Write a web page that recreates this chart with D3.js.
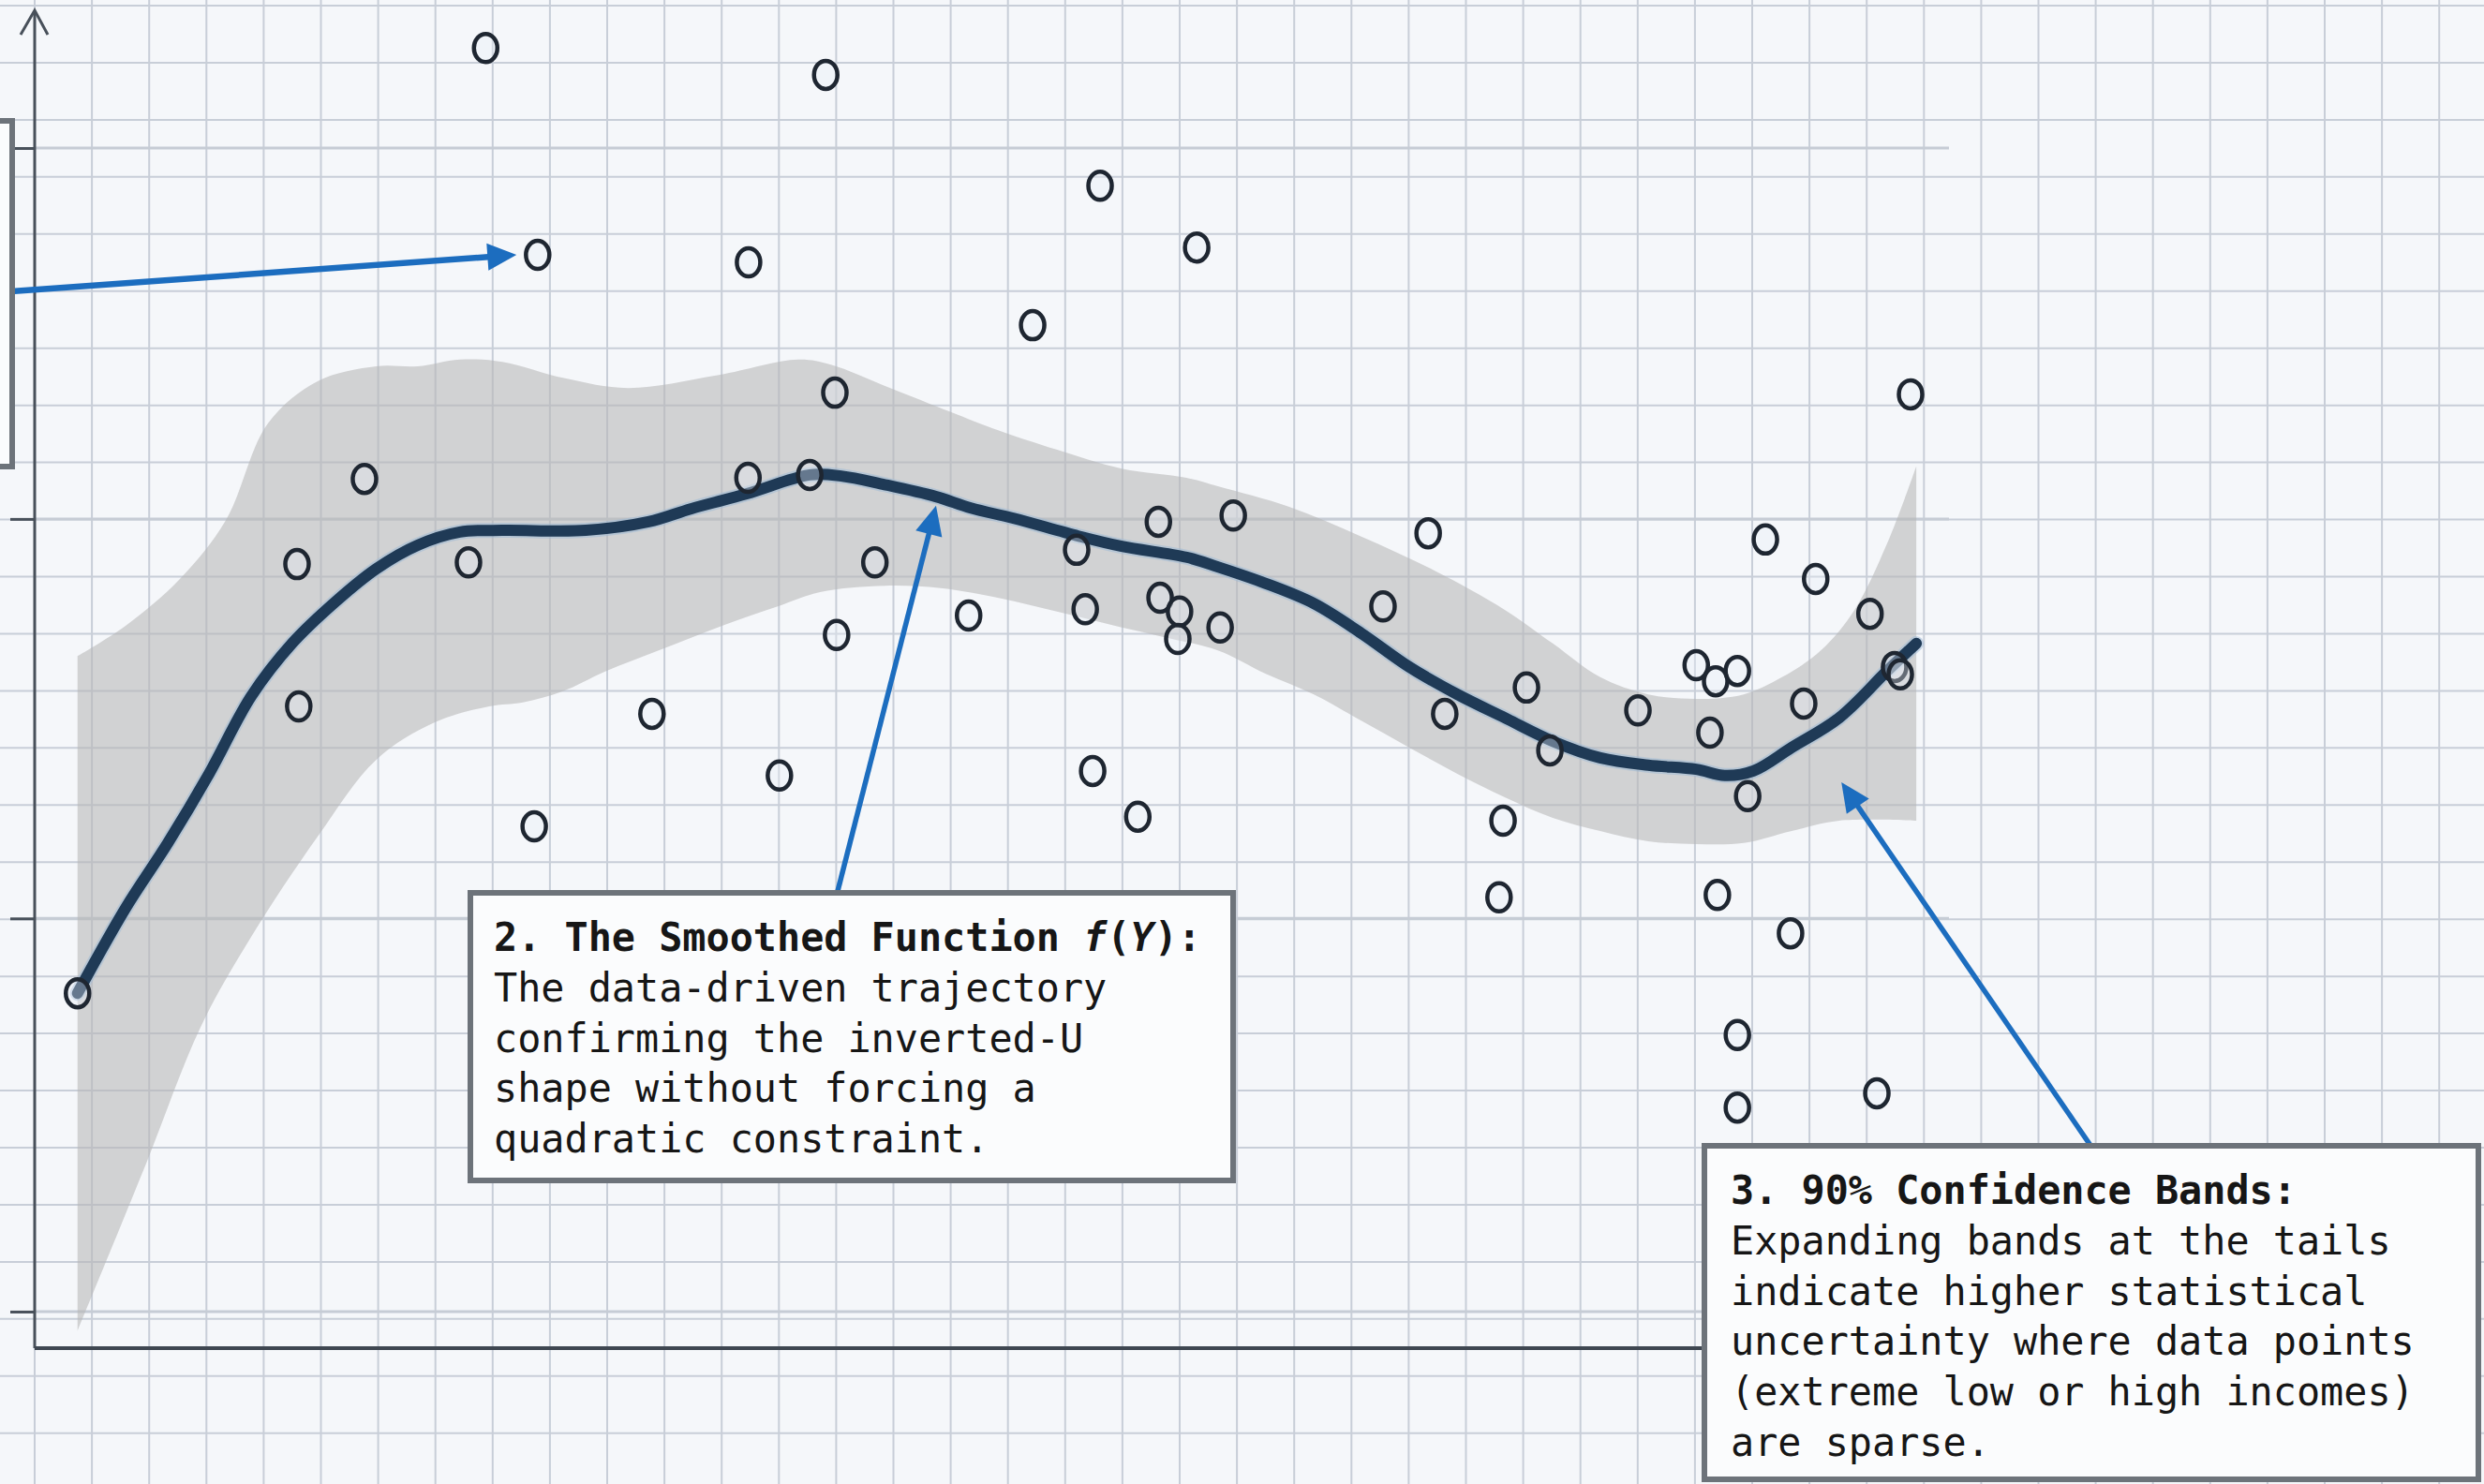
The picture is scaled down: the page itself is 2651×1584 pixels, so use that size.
<!DOCTYPE html>
<html>
<head>
<meta charset="utf-8">
<script src="https://cdn.jsdelivr.net/npm/d3@7"></script>
<style>
  html, body { margin: 0; padding: 0; background: #f5f7fa; overflow: hidden; }
  svg { display: block; }
</style>
</head>
<body>
<svg id="chart"></svg>
<script>
// ---- data (plot units: x = income index, y = outcome index) ----
const obsX = [7.89, 13.84, 18.64, 20.33, 8.80, 12.49, 17.46, 14.00, 32.82, 5.77,
              12.48, 13.56, 19.66, 20.97, 24.38, 4.59, 7.59, 14.70, 18.23, 30.28,
              31.16, 16.34, 18.38, 19.69, 20.03, 20.00, 20.74, 23.59, 32.11, 14.03,
              4.62, 10.80, 29.07, 29.41, 29.79, 32.54, 32.64, 26.10, 24.67, 28.05,
              29.31, 30.95, 26.51, 29.97, 13.03, 18.51, 8.74, 19.30, 25.69, 25.62,
              29.44, 30.72, 29.79, 29.79, 32.23, 0.75];
const obsY = [22.75, 22.28, 20.34, 19.26, 19.13, 19.00, 17.90, 16.72, 16.69, 15.21,
              15.23, 15.28, 14.46, 14.57, 14.26, 13.72, 13.75, 13.75, 13.97, 14.15,
              13.46, 12.82, 12.93, 13.13, 12.89, 12.41, 12.61, 12.98, 12.85, 12.48,
              11.23, 11.10, 11.95, 11.67, 11.85, 11.92, 11.79, 11.56, 11.10, 11.16,
              10.77, 11.28, 10.46, 9.66, 10.02, 10.10, 9.13, 9.30, 9.23, 7.89,
              7.93, 7.26, 5.48, 4.21, 4.46, 6.21];

// smoothed function f(Y)
const fitX = [0.75, 1.59, 2.33, 3.05, 3.79, 4.51, 5.25, 5.98, 6.70, 7.44, 8.18, 9.64,
              10.74, 11.49, 12.46, 13.56, 14.11, 14.87, 15.77, 16.38, 17.13, 18.26,
              19.02, 20.15, 20.70, 21.54, 22.38, 23.21, 24.05, 24.89, 25.72, 26.56,
              27.39, 28.23, 29.07, 29.57, 30.07, 30.74, 31.57, 32.41, 32.92];
const fitY = [6.21, 7.70, 8.84, 10.05, 11.41, 12.34, 13.05, 13.64, 14.05, 14.28, 14.31, 14.31,
              14.46, 14.69, 14.95, 15.28, 15.26, 15.11, 14.90, 14.70, 14.52, 14.21,
              14.03, 13.84, 13.67, 13.38, 13.03, 12.51, 11.92, 11.44, 11.03, 10.62,
              10.33, 10.20, 10.13, 10.02, 10.10, 10.51, 11.03, 11.85, 12.33];

// 90% confidence band, upper edge
const upperX = [0.75, 1.59, 2.54, 3.34, 4.08, 4.95, 5.98, 6.70, 7.44, 8.18, 9.28, 10.38,
                11.97, 13.36, 13.93, 14.97, 16.03, 16.75, 17.89, 19.02, 20.15, 20.70,
                21.95, 23.21, 24.48, 25.72, 26.56, 27.39, 28.23, 29.07, 29.90, 30.57,
                31.25, 31.84, 32.41, 32.92];
const upperY = [12.11, 12.64, 13.46, 14.48, 16.18, 16.92, 17.18, 17.18, 17.30, 17.26, 16.97, 16.80,
                17.03, 17.30, 17.21, 16.80, 16.38, 16.10, 15.72, 15.39, 15.23, 15.08,
                14.72, 14.20, 13.61, 12.92, 12.33, 11.74, 11.44, 11.36, 11.44, 11.74,
                12.21, 12.92, 14.08, 15.43];
// 90% confidence band, lower edge
const lowerX = [0.75, 1.95, 2.90, 3.79, 4.95, 5.98, 7.00, 7.95, 8.54, 9.23, 9.98, 10.97,
                12.08, 13.00, 13.74, 14.87, 15.85, 16.75, 17.51, 18.26, 19.02, 19.77,
                20.70, 21.54, 22.38, 23.21, 24.05, 24.89, 25.72, 26.56, 27.39, 28.23,
                29.07, 29.90, 30.74, 31.57, 32.92];
const lowerY = [0.30, 3.23, 5.61, 7.20, 8.95, 10.30, 10.95, 11.23, 11.30, 11.49, 11.84, 12.23,
                12.66, 12.98, 13.23, 13.34, 13.30, 13.15, 12.98, 12.80, 12.61, 12.44,
                12.21, 11.80, 11.44, 10.98, 10.51, 10.05, 9.64, 9.28, 9.05, 8.87,
                8.82, 8.84, 9.05, 9.23, 9.23];

const yTicks = [0.64, 7.52, 14.51, 21.0];

const note2Title = ["2. The Smoothed Function ", "f", "(", "Y", "):"];
const note2Body = ["The data-driven trajectory",
                   "confirming the inverted-U",
                   "shape without forcing a",
                   "quadratic constraint."];
const note3Title = "3. 90% Confidence Bands:";
const note3Body = ["Expanding bands at the tails",
                   "indicate higher statistical",
                   "uncertainty where data points",
                   "(extreme low or high incomes)",
                   "are sparse."];

// ---- layout ----
const W = 2651, H = 1584;
const originX = 37, originY = 1439, unit = 61;
const x = d3.scaleLinear().domain([0, 43]).range([originX, originX + 43 * unit]);
const y = d3.scaleLinear().domain([0, 23.5]).range([originY, originY - 23.5 * unit]);

const svg = d3.select("#chart").attr("width", W).attr("height", H);

svg.append("rect").attr("width", W).attr("height", H).attr("fill", "#f5f7fa");

// graph-paper grid
const grid = svg.append("g").attr("stroke", "#c8ced8").attr("stroke-width", 2);
grid.selectAll("line.v").data(d3.range(0, 44)).join("line")
  .attr("class", "v")
  .attr("x1", k => originX + k * 61.1).attr("x2", k => originX + k * 61.1)
  .attr("y1", 0).attr("y2", H);
grid.selectAll("line.h").data(d3.range(0, 27)).join("line")
  .attr("class", "h")
  .attr("y1", k => 6 + k * 60.95).attr("y2", k => 6 + k * 60.95)
  .attr("x1", 0).attr("x2", W);

// faint reference lines at the y ticks
svg.append("g").selectAll("line").data(yTicks).join("line")
  .attr("x1", originX).attr("x2", 2080)
  .attr("y1", d => y(d)).attr("y2", d => y(d))
  .attr("stroke", "#c6ccd5").attr("stroke-width", 3);

// confidence band
const edge = d3.line().x(d => x(d[0])).y(d => y(d[1])).curve(d3.curveCatmullRom.alpha(0.5));
const upperPts = upperX.map((v, i) => [v, upperY[i]]);
const lowerPts = lowerX.map((v, i) => [v, lowerY[i]]).reverse();
const bandPath = edge(upperPts) + "L" + edge(lowerPts).slice(1) + "Z";
svg.append("path").attr("d", bandPath)
  .attr("fill", "#b6b6b7").attr("fill-opacity", 0.58);

// axes
const axisColor = "#48505a";
svg.append("line").attr("x1", originX).attr("x2", originX)
  .attr("y1", 12).attr("y2", originY)
  .attr("stroke", axisColor).attr("stroke-width", 3);
svg.append("polyline").attr("points", `${originX - 15},37 ${originX},11 ${originX + 14},37`)
  .attr("fill", "none").attr("stroke", axisColor).attr("stroke-width", 3)
  .attr("stroke-linejoin", "miter");
svg.append("line").attr("x1", originX).attr("x2", 1830)
  .attr("y1", originY).attr("y2", originY)
  .attr("stroke", "#3f4751").attr("stroke-width", 4);

const yAxis = d3.axisLeft(y).tickValues(yTicks).tickSize(26).tickFormat("");
const yAxisG = svg.append("g").attr("transform", `translate(${originX},0)`).call(yAxis);
yAxisG.select(".domain").remove();
yAxisG.selectAll(".tick line").attr("stroke", axisColor).attr("stroke-width", 3);

// smoothed function
const fitPts = fitX.map((v, i) => [v, fitY[i]]);
const fitLine = d3.line().x(d => x(d[0])).y(d => y(d[1])).curve(d3.curveCatmullRom.alpha(0.5));
svg.append("path").attr("d", fitLine(fitPts))
  .attr("fill", "none").attr("stroke", "#9fbad6").attr("stroke-opacity", 0.55)
  .attr("stroke-width", 16).attr("stroke-linecap", "round").attr("stroke-linejoin", "round");
svg.append("path").attr("d", fitLine(fitPts))
  .attr("fill", "none").attr("stroke", "#1f3a56")
  .attr("stroke-width", 12).attr("stroke-linecap", "round").attr("stroke-linejoin", "round");

// observations
svg.append("g").selectAll("ellipse").data(obsX.map((v, i) => [v, obsY[i]])).join("ellipse")
  .attr("cx", d => x(d[0])).attr("cy", d => y(d[1]))
  .attr("rx", 12.5).attr("ry", 15)
  .attr("fill", "#e8edf5").attr("fill-opacity", 0.35)
  .attr("stroke", "#1e2631").attr("stroke-width", 4.5);

// annotation boxes and arrows
const boxStroke = "#6d737a";
function box(x0, y0, w, h) {
  svg.append("rect").attr("x", x0).attr("y", y0).attr("width", w).attr("height", h)
    .attr("fill", "#fbfcfd").attr("stroke", boxStroke).attr("stroke-width", 6);
}
const arrowColor = "#1c6dbf";
function arrow(x0, y0, x1, y1, width) {
  const dx = x1 - x0, dy = y1 - y0, len = Math.hypot(dx, dy);
  const ux = dx / len, uy = dy / len, L = 31, hw = 14.5;
  const bx = x1 - ux * L, by = y1 - uy * L;
  svg.append("line").attr("x1", x0).attr("y1", y0).attr("x2", bx + ux * 4).attr("y2", by + uy * 4)
    .attr("stroke", arrowColor).attr("stroke-width", width);
  svg.append("polygon")
    .attr("points", `${x1},${y1} ${bx - uy * hw},${by + ux * hw} ${bx + uy * hw},${by - ux * hw}`)
    .attr("fill", arrowColor);
}

// note 1 (off the left edge) and its arrow
arrow(12, 311, x(8.43), y(19.13), 6.5);
box(-100, 129, 113, 369);

// note 2
arrow(893, 955, x(15.77), y(14.74), 5.5);
box(502, 953, 814, 307);
// note 3
arrow(2232, 1224, x(31.61), y(9.90), 5.5);
box(1819, 1223, 826, 356);

const font = "'DejaVu Sans Mono', 'Liberation Mono', monospace";
const fontSize = 41.8;
function note(x0, yTitle, titleParts, body) {
  const t = svg.append("text").attr("x", x0).attr("y", yTitle)
    .attr("font-family", font).attr("font-size", fontSize).attr("font-weight", "bold")
    .attr("fill", "#161616");
  if (Array.isArray(titleParts)) {
    titleParts.forEach(s => {
      t.append("tspan").text(s).attr("font-style", (s === "f" || s === "Y") ? "italic" : "normal");
    });
  } else {
    t.text(titleParts);
  }
  body.forEach((line, i) => {
    svg.append("text").attr("x", x0).attr("y", yTitle + (i + 1) * 53.8)
      .attr("font-family", font).attr("font-size", fontSize).attr("fill", "#161616")
      .text(line);
  });
}
note(527, 1015, note2Title, note2Body);
note(1847, 1285, note3Title, note3Body);
</script>
</body>
</html>
